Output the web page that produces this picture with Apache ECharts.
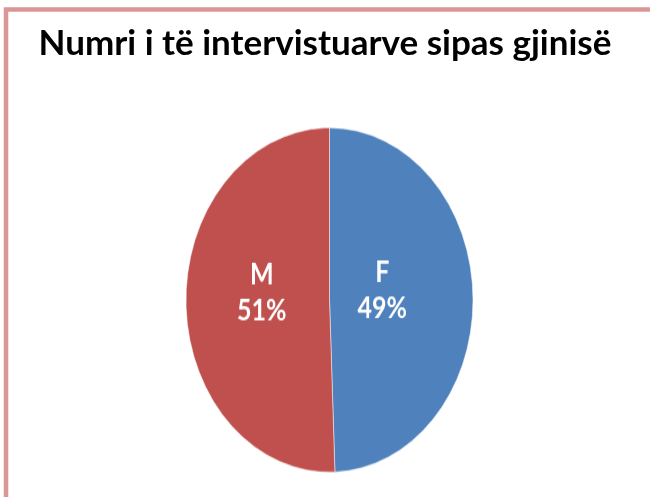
<!DOCTYPE html>
<html>
<head>
<meta charset="utf-8">
<script src="https://cdn.jsdelivr.net/npm/echarts@6/dist/echarts.min.js"></script>
<style>
  html, body { margin: 0; padding: 0; background: #fff; }
  #wrap { position: relative; width: 650px; height: 497px; overflow: hidden; }
  #base, #pie { position: absolute; left: 0; top: 0; width: 650px; height: 497px; }
  /* the pie in the original is an ellipse, so stretch it vertically around its centre */
  #pie { transform-origin: 0 300px; transform: scaleY(1.2); }
</style>
</head>
<body>
<div id="wrap">
  <div id="base"></div>
  <div id="pie"></div>
</div>
<script>
// Chart data
const titleText = 'Numri i të intervistuarve sipas gjinisë';
const categories = ['F', 'M'];
const shares = [49.4, 50.6];
const sliceColors = ['#4F81BD', '#C0504D'];

// Background chart: frame + title
const baseChart = echarts.init(document.getElementById('base'));
baseChart.setOption({
  animation: false,
  title: {
    text: titleText,
    left: 'center',
    top: 21,
    textStyle: {
      fontFamily: 'Lato, sans-serif',
      fontWeight: 'bold',
      fontSize: 35,
      color: '#000'
    }
  },
  graphic: [{
    type: 'rect',
    shape: { x: 6, y: 9.5, width: 800, height: 700 },
    style: { fill: 'none', stroke: '#D99694', lineWidth: 4.5 }
  }]
});

// Pie chart (drawn in the stretched layer)
const labelShift = [[-22, -7], [7, -7]];
const pieData = categories.map((name, i) => ({
  name: name,
  value: shares[i],
  itemStyle: { color: sliceColors[i] },
  label: { offset: labelShift[i] }
}));

const pieChart = echarts.init(document.getElementById('pie'));
pieChart.setOption({
  animation: false,
  series: [{
    type: 'pie',
    center: [329.5, 300],
    radius: [0, 143.5],
    startAngle: 90,
    clockwise: true,
    data: pieData,
    itemStyle: { borderColor: 'rgba(255,255,255,0.6)', borderWidth: 0.8 },
    label: {
      show: true,
      position: 'inside',
      formatter: p => p.name + '\n' + Math.round(p.value) + '%',
      color: '#fff',
      fontFamily: 'Lato, sans-serif',
      fontWeight: 'bold',
      fontSize: 25,
      lineHeight: 30
    },
    labelLine: { show: false },
    emphasis: { disabled: true }
  }]
});
</script>
</body>
</html>
